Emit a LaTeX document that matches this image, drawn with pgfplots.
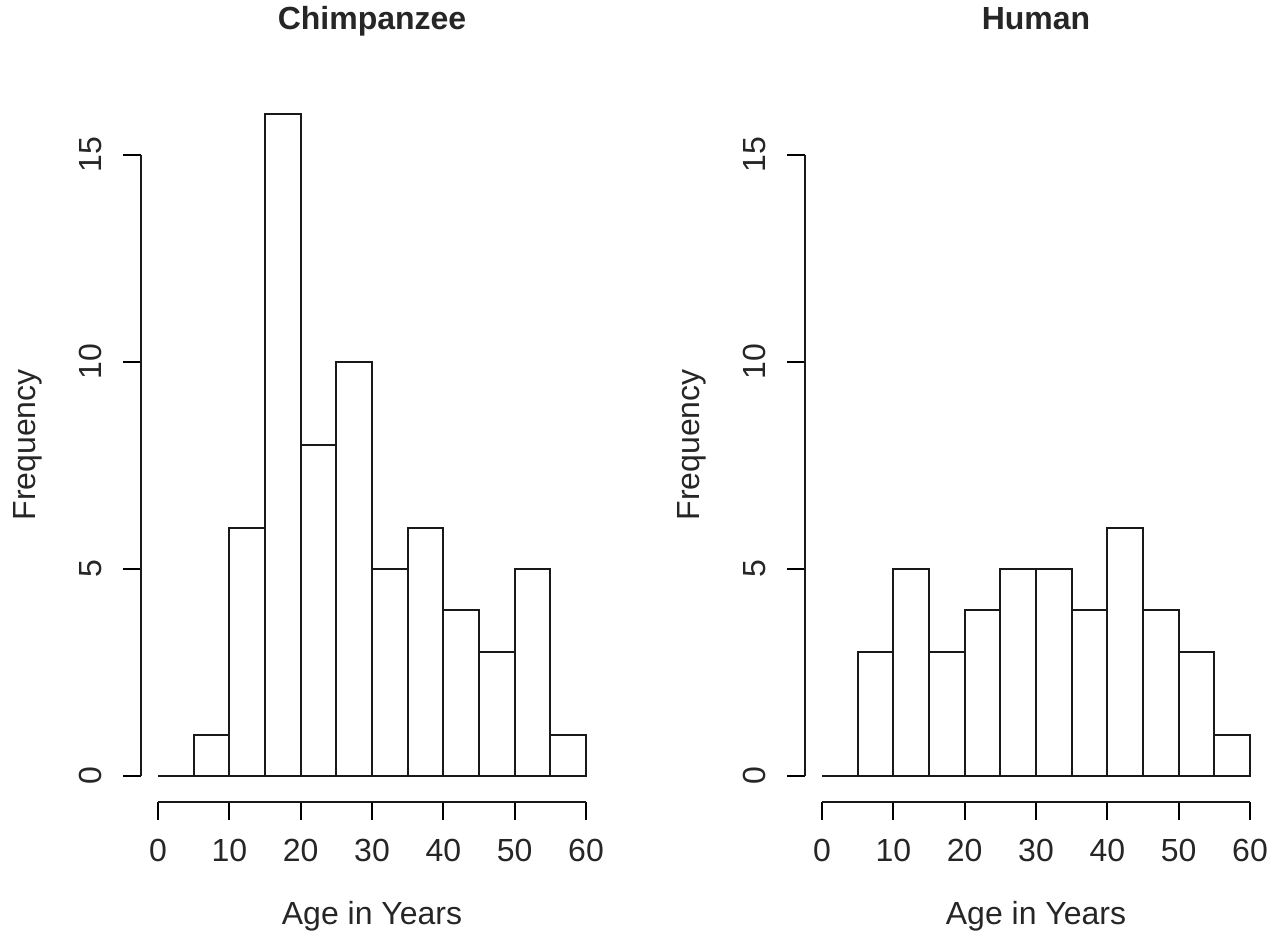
\documentclass[border=0pt]{standalone}
\usepackage{fontspec}
\setmainfont{Liberation Sans}
\usepackage{pgfplots}
\pgfplotsset{compat=1.18}

% one pixel of the reference = 0.5pt
\pgfplotsset{
  rhist/.style={
    scale only axis,
    width=231.12pt, height=357.7pt,
    xmin=-2.4, xmax=62.4, ymin=-0.64, ymax=16.64,
    axis x line*=bottom, axis y line*=left,
    axis line style={draw=none},
    clip=false,
    xtick={0,10,20,30,40,50,60},
    ytick={0,5,10,15},
    tick align=outside,
    major tick length=8.75pt,
    tick style={black, line width=1pt},
    /pgf/number format/assume math mode=true,
    tick label style={font=\fontsize{16pt}{19pt}\selectfont, text=black!85},
    xticklabel style={anchor=base, yshift=-21pt},
    yticklabel style={rotate=90, anchor=base, yshift=10.85pt},
    label style={font=\fontsize{16pt}{19pt}\selectfont, text=black!85},
    xlabel={Age in Years},
    xlabel style={at={(0.5,0)}, anchor=base, yshift=-61.25pt},
    ylabel={Frequency},
    ylabel style={at={(0,0.5)}, anchor=base, yshift=52.45pt},
    title style={font=\fontsize{16pt}{19pt}\selectfont\bfseries, text=black!85,
      at={(0.5,1)}, anchor=base, yshift=23pt},
  },
  rbar/.style={ybar interval, draw=black!90, fill=white, line width=1pt},
}

\begin{document}
\begin{tikzpicture}
\useasboundingbox (0,0) rectangle (640.5pt,468pt);

\begin{axis}[rhist, title={Chimpanzee}, at={(70.44pt,66.75pt)}, anchor=south west]
  \addplot[rbar] coordinates {
    (0,0) (5,1) (10,6) (15,16) (20,8) (25,10) (30,5)
    (35,6) (40,4) (45,3) (50,5) (55,1) (60,1)};
  \draw[line width=1pt, black!90] (axis cs:0,-0.64) -- (axis cs:60,-0.64);
  \draw[line width=1pt, black!90] (axis cs:-2.4,0) -- (axis cs:-2.4,15);
\end{axis}

\begin{axis}[rhist, title={Human}, at={(402.44pt,66.75pt)}, anchor=south west]
  \addplot[rbar] coordinates {
    (0,0) (5,3) (10,5) (15,3) (20,4) (25,5) (30,5)
    (35,4) (40,6) (45,4) (50,3) (55,1) (60,1)};
  \draw[line width=1pt, black!90] (axis cs:0,-0.64) -- (axis cs:60,-0.64);
  \draw[line width=1pt, black!90] (axis cs:-2.4,0) -- (axis cs:-2.4,15);
\end{axis}
\end{tikzpicture}
\end{document}
